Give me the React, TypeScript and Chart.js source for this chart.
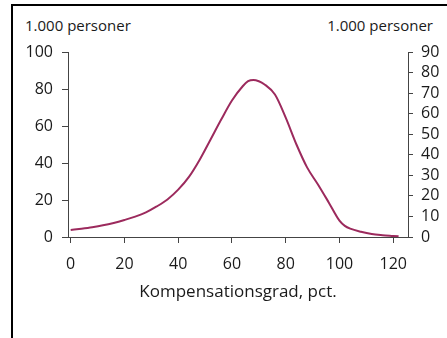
import React, { useEffect, useRef } from "react";
import { Chart, registerables } from "chart.js";

Chart.register(...registerables);

const compensationPct = [0, 4, 8, 12, 16, 20, 24, 28, 32, 36, 40, 44, 48, 52, 56, 60, 64, 66, 68, 70, 72, 76, 80, 84, 88, 92, 96, 100, 102, 104, 108, 112, 116, 120, 122];
const persons = [3.8, 4.5, 5.3, 6.3, 7.6, 9.2, 11, 13.3, 16.5, 20.3, 25.6, 32.5, 41.8, 52.6, 63.5, 73.8, 81.5, 84.2, 84.9, 84.2, 82.6, 77, 64.5, 50, 37.5, 28.4, 18.7, 8.8, 6, 4.5, 2.8, 1.6, 1, 0.6, 0.4];
const xTicks = [0, 20, 40, 60, 80, 100, 120];
const leftTicks = [0, 20, 40, 60, 80, 100];
const rightTicks = [0, 10, 20, 30, 40, 50, 60, 70, 80, 90];
const unitLabel = "1.000 personer";
const xTitle = "Kompensationsgrad, pct.";

const FONT = "'Open Sans', 'Noto Sans', sans-serif";
const AXIS = "#444444";
const TEXT = "#1a1a1a";
const LINE = "#9c2a5d";

export default function App() {
  const ref = useRef<HTMLCanvasElement | null>(null);

  useEffect(() => {
    if (!ref.current) return;
    const chart = new Chart(ref.current, {
      type: "line",
      data: {
        datasets: [
          {
            data: compensationPct.map((x, i) => ({ x, y: persons[i] })),
            borderColor: LINE,
            borderWidth: 2,
            pointRadius: 0,
            tension: 0.4,
            cubicInterpolationMode: "monotone",
            fill: false,
            yAxisID: "y",
          },
        ],
      },
      options: {
        animation: false,
        responsive: false,
        maintainAspectRatio: false,
        layout: { padding: { top: 52, left: 0, right: 0, bottom: 0 } },
        plugins: { legend: { display: false }, tooltip: { enabled: false }, title: { display: false } },
        scales: {
          x: {
            type: "linear",
            min: -1,
            max: 125.5,
            afterBuildTicks: (s: any) => { s.ticks = xTicks.map((v) => ({ value: v })); },
            afterFit: (s: any) => { s.height = 101; },
            grid: { drawOnChartArea: false, drawTicks: true, tickLength: 6, color: AXIS },
            border: { display: true, color: AXIS, width: 1 },
            ticks: { color: TEXT, font: { family: FONT, size: 16 }, padding: 12, maxRotation: 0, autoSkip: false },
            title: { display: true, text: xTitle, color: TEXT, font: { family: FONT, size: 17 }, padding: { top: 0, bottom: 36 } },
          },
          y: {
            type: "linear",
            position: "left",
            min: 0,
            max: 100,
            afterBuildTicks: (s: any) => { s.ticks = leftTicks.map((v) => ({ value: v })); },
            afterFit: (s: any) => { s.width = 68; },
            grid: { drawOnChartArea: false, drawTicks: true, tickLength: 6, color: AXIS },
            border: { display: true, color: AXIS, width: 1 },
            ticks: { color: TEXT, font: { family: FONT, size: 16 }, padding: 9, autoSkip: false },
          },
          y2: {
            type: "linear",
            position: "right",
            min: 0,
            max: 90,
            display: true,
            afterBuildTicks: (s: any) => { s.ticks = rightTicks.map((v) => ({ value: v })); },
            afterFit: (s: any) => { s.width = 39; },
            grid: { drawOnChartArea: false, drawTicks: true, tickLength: 5, color: AXIS },
            border: { display: true, color: AXIS, width: 1 },
            ticks: { color: TEXT, font: { family: FONT, size: 16 }, padding: 8, autoSkip: false },
          },
        },
      },
    });
    return () => chart.destroy();
  }, []);

  return (
    <div style={{ position: "fixed", left: 0, top: 0, width: 447, height: 338, background: "#fff", overflow: "hidden" }}>
      <div style={{ position: "absolute", left: 11, top: 4, width: 436, height: 2, background: "#000" }} />
      <div style={{ position: "absolute", left: 11, top: 4, width: 2, height: 334, background: "#000" }} />
      <div style={{ position: "absolute", left: 25, top: 15, fontFamily: FONT, fontSize: 15, color: TEXT, lineHeight: "20px", whiteSpace: "nowrap" }}>{unitLabel}</div>
      <div style={{ position: "absolute", right: 14, top: 15, fontFamily: FONT, fontSize: 15, color: TEXT, lineHeight: "20px", whiteSpace: "nowrap" }}>{unitLabel}</div>
      <canvas ref={ref} width={447} height={338} style={{ position: "absolute", left: 0, top: 0, width: 447, height: 338 }} />
    </div>
  );
}
